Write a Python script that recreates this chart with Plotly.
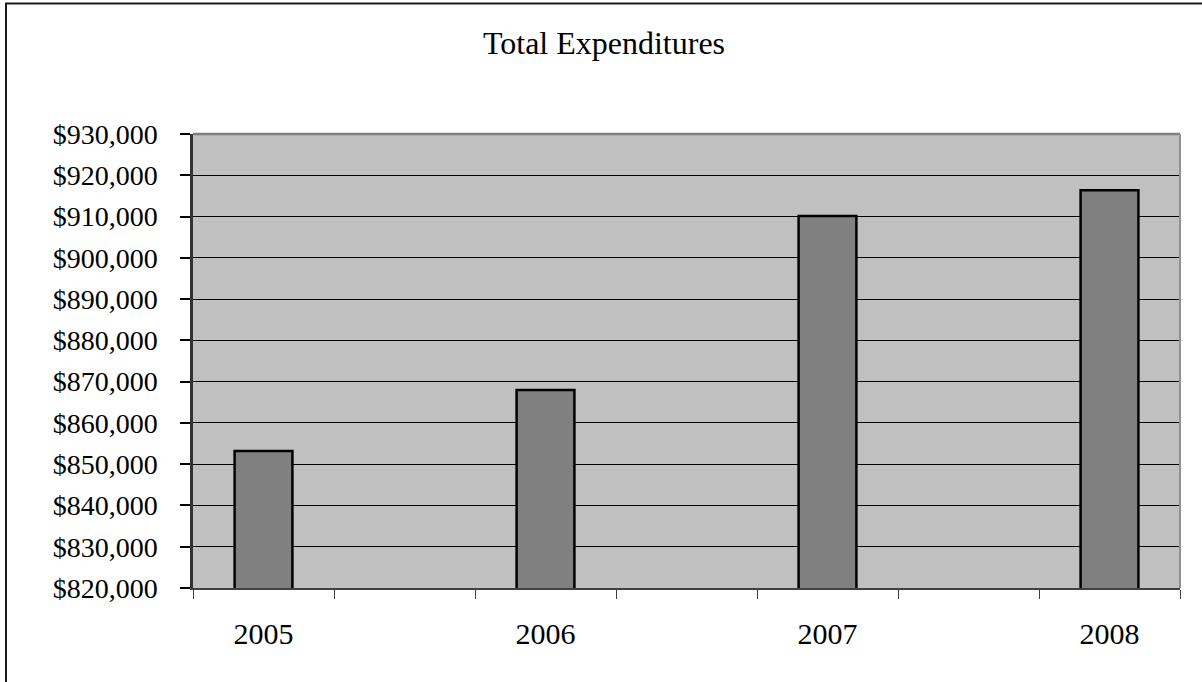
import plotly.graph_objects as go

# Annual totals
years = ["2005", "2006", "2007", "2008"]
expenditures = [853200, 868000, 910150, 916400]

y_ticks = list(range(820000, 930001, 10000))
y_tick_labels = [f"${v:,}" for v in y_ticks]

W, H = 1202, 682
ML, MR, MT, MB = 193, 22, 134, 94
PW, PH = W - ML - MR, H - MT - MB


def px_x(p):
    return (p - ML) / PW


def px_y(p):
    return (H - MB - p) / PH


FONT = "Liberation Serif"
positions = list(range(len(years)))

fig = go.Figure()
fig.add_trace(go.Bar(
    x=positions,
    y=expenditures,
    width=0.205,
    marker=dict(color="#808080", line=dict(color="#000000", width=2.5)),
    hoverinfo="skip",
))

fig.update_layout(
    width=W, height=H,
    margin=dict(l=ML, r=MR, t=MT, b=MB),
    paper_bgcolor="white",
    plot_bgcolor="#c0c0c0",
    showlegend=False,
    title=dict(text="Total Expenditures", x=604 / W, xanchor="center",
               y=1 - 43 / H, yanchor="middle",
               font=dict(family=FONT, size=32, color="#000000")),
    xaxis=dict(
        range=[-0.25, len(years) - 0.75],
        tickmode="array", tickvals=positions, ticktext=years,
        ticks="", showgrid=False, zeroline=False,
        showline=True, linecolor="#404040", linewidth=1.5,
        tickfont=dict(family=FONT, size=30, color="#000000"),
        ticklabelstandoff=18,
        minor=dict(tickmode="array",
                   tickvals=[-0.25 + 0.5 * k for k in range(2 * len(years))],
                   ticks="outside", ticklen=9, tickwidth=1, tickcolor="#404040",
                   showgrid=False),
    ),
    yaxis=dict(
        range=[y_ticks[0], y_ticks[-1]],
        tickmode="array", tickvals=y_ticks, ticktext=y_tick_labels,
        ticks="outside", ticklen=10, tickwidth=1.5, tickcolor="#000000",
        showgrid=True, gridcolor="#000000", gridwidth=1,
        zeroline=False,
        showline=True, linecolor="#333333", linewidth=2.5,
        tickfont=dict(family=FONT, size=28, color="#000000"),
        ticklabelstandoff=17,
    ),
    shapes=[
        # plot area top and right edges
        dict(type="line", xref="paper", yref="paper", x0=0, x1=1, y0=1, y1=1,
             line=dict(color="#808080", width=2.5)),
        dict(type="line", xref="paper", yref="paper", x0=1, x1=1, y0=0, y1=1,
             line=dict(color="#909090", width=2)),
        # chart frame
        dict(type="rect", xref="paper", yref="paper",
             x0=px_x(6), x1=px_x(1230), y0=px_y(720), y1=px_y(3.5),
             line=dict(color="#1a1a1a", width=2)),
    ],
)

fig.write_html("out.html")
